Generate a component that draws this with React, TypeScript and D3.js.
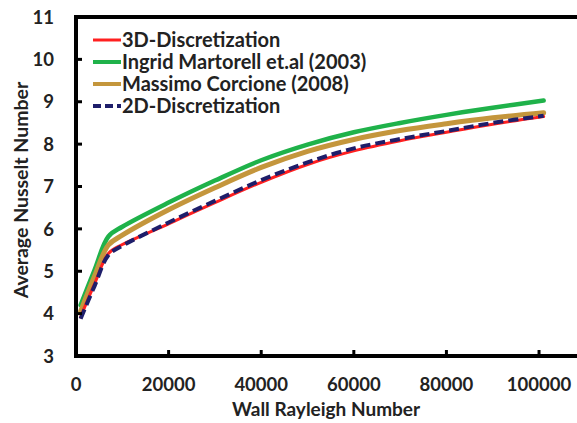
import React from "react";
import * as d3 from "d3";

const ra = [1000, 4000, 7000, 10000, 20000, 30000, 40000, 50000, 60000, 70000, 80000, 90000, 101000];
const nu3D = [3.92, 4.7, 5.42, 5.63, 6.12, 6.62, 7.1, 7.52, 7.84, 8.08, 8.28, 8.47, 8.65];
const nuMartorell = [4.2, 5.03, 5.82, 6.05, 6.62, 7.14, 7.62, 7.99, 8.28, 8.5, 8.69, 8.86, 9.03];
const nuCorcione = [4.05, 4.88, 5.62, 5.85, 6.45, 6.97, 7.45, 7.83, 8.11, 8.32, 8.48, 8.62, 8.74];
const nu2D = [3.88, 4.65, 5.38, 5.6, 6.15, 6.66, 7.15, 7.57, 7.9, 8.12, 8.31, 8.5, 8.67];

const xTicks = [0, 20000, 40000, 60000, 80000, 100000];
const yTicks = [3, 4, 5, 6, 7, 8, 9, 10, 11];
const seriesNames = ["3D-Discretization", "Ingrid Martorell et.al (2003)", "Massimo Corcione (2008)", "2D-Discretization"];

export default function App() {
  const W = 577, H = 423;
  const left = 76, top = 17, bottom = 356, rightEdge = 577;
  const x = d3.scaleLinear().domain([0, 108200]).range([left, rightEdge]);
  const y = d3.scaleLinear().domain([3, 11]).range([bottom, top]);
  const line = d3.line<number>().x((_, i) => x(ra[i])).y((d) => y(d)).curve(d3.curveCatmullRom.alpha(0.5));

  const series = [
    { name: seriesNames[1], data: nuMartorell, color: "#1fb24a", width: 4.5, dash: "" },
    { name: seriesNames[2], data: nuCorcione, color: "#c4963c", width: 5, dash: "" },
    { name: seriesNames[0], data: nu3D, color: "#ff2020", width: 3, dash: "" },
    { name: seriesNames[3], data: nu2D, color: "#1e1e6a", width: 4, dash: "10,5" },
  ];
  const legend = [
    { name: seriesNames[0], color: "#ff2020", width: 3, dash: "" },
    { name: seriesNames[1], color: "#1fb24a", width: 4, dash: "" },
    { name: seriesNames[2], color: "#c4963c", width: 4, dash: "" },
    { name: seriesNames[3], color: "#1e1e6a", width: 4, dash: "8,4" },
  ];
  const font = "Lato, 'Open Sans', sans-serif";

  return (
    <svg width={W} height={H} style={{ position: "absolute", left: 0, top: 0, background: "#fff" }}>
      <g fontFamily={font} fontWeight="bold" fill="#222">
        {series.map((s) => (
          <path key={s.name} d={line(s.data) || ""} fill="none" stroke={s.color} strokeWidth={s.width}
            strokeDasharray={s.dash} strokeLinecap={s.dash ? "butt" : "round"} />
        ))}
        <line x1={left} x2={rightEdge} y1={top} y2={top} stroke="#000" strokeWidth={4} />
        <line x1={left} x2={rightEdge} y1={bottom} y2={bottom} stroke="#000" strokeWidth={4} />
        <line x1={left} x2={left} y1={top - 2} y2={bottom + 2} stroke="#000" strokeWidth={4} />
        {yTicks.map((t) => (
          <g key={"y" + t}>
            {t !== 3 && t !== 11 && <line x1={left} x2={left + 6} y1={y(t)} y2={y(t)} stroke="#000" strokeWidth={3} />}
            <text x={54} y={y(t)} dy="0.36em" textAnchor="end" fontSize={18.5}>{t}</text>
          </g>
        ))}
        {xTicks.map((t) => (
          <g key={"x" + t}>
            {t !== 0 && <line x1={x(t)} x2={x(t)} y1={bottom} y2={bottom - 6} stroke="#000" strokeWidth={3} />}
            <text x={x(t)} y={391} textAnchor="middle" fontSize={18.5}>{t}</text>
          </g>
        ))}
        <text x={326} y={416} textAnchor="middle" fontSize={19}>Wall Rayleigh Number</text>
        <text transform={`translate(28,190) rotate(-90)`} textAnchor="middle" fontSize={19.5}>Average Nusselt Number</text>
        {legend.map((l, i) => {
          const ly = 40 + i * 22;
          return (
            <g key={l.name}>
              <line x1={93} x2={121} y1={ly} y2={ly} stroke={l.color} strokeWidth={l.width} strokeDasharray={l.dash} />
              <text x={122} y={ly} dy="0.36em" fontSize={20}>{l.name}</text>
            </g>
          );
        })}
      </g>
    </svg>
  );
}
